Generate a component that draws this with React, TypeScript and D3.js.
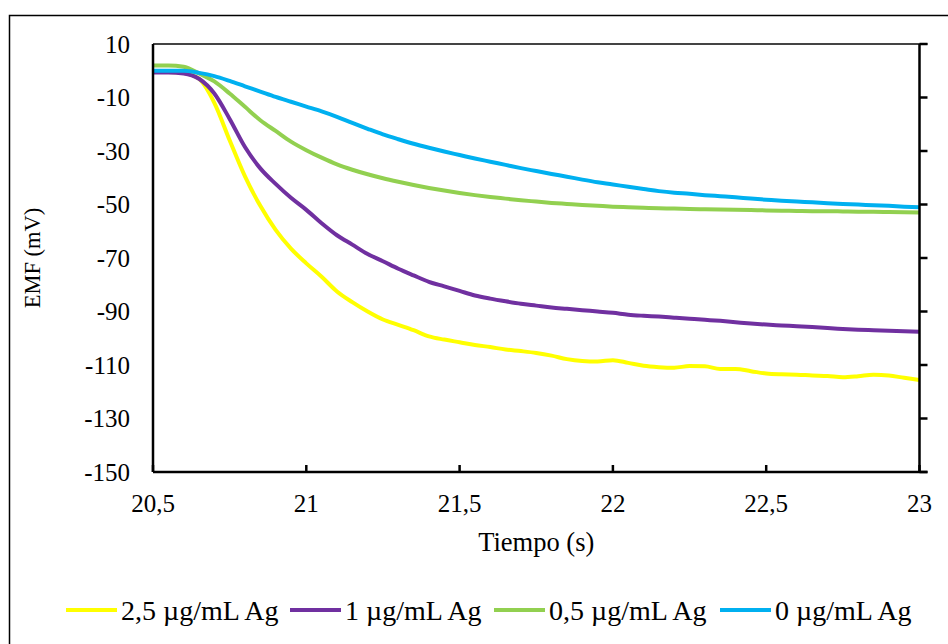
import React from "react";
import * as d3 from "d3";

const times = [
  20.5, 20.55, 20.6, 20.65, 20.7, 20.75, 20.8, 20.85, 20.9, 20.95,
  21.0, 21.05, 21.1, 21.15, 21.2, 21.25, 21.3, 21.35, 21.4, 21.45,
  21.5, 21.55, 21.6, 21.65, 21.7, 21.75, 21.8, 21.85, 21.9, 21.95,
  22.0, 22.05, 22.1, 22.15, 22.2, 22.25, 22.3, 22.35, 22.4, 22.45,
  22.5, 22.55, 22.6, 22.65, 22.7, 22.75, 22.8, 22.85, 22.9, 22.95, 23.0,
];

const ag25 = [
  -0.5, -0.5, -0.8, -3, -12, -26, -39.5, -50.5, -59.5, -66.5,
  -72, -77, -82.5, -86.5, -90, -93, -95, -97, -99.3, -100.5,
  -101.5, -102.5, -103.3, -104.2, -104.8, -105.5, -106.5, -107.8, -108.5, -108.7,
  -108.2, -109.2, -110.3, -110.8, -111, -110.4, -110.5, -111.5, -111.5, -112.3,
  -113.2, -113.5, -113.6, -113.9, -114.1, -114.6, -114.2, -113.6, -113.9, -114.8, -115.6,
];

const ag1 = [
  -0.7, -0.7, -1.0, -3, -8.5, -18, -28.5, -36.5, -42.3, -47.5,
  -52, -57, -61.5, -65, -68.5, -71.2, -74, -76.5, -78.9, -80.6,
  -82.3, -84, -85.2, -86.2, -87.1, -87.8, -88.5, -89, -89.5, -90,
  -90.5, -91.2, -91.6, -91.9, -92.3, -92.7, -93.1, -93.5, -94, -94.5,
  -94.9, -95.2, -95.5, -95.8, -96.2, -96.5, -96.8, -97, -97.2, -97.4, -97.6,
];

const ag05 = [
  2.0, 2.0, 1.5, -1, -4, -8.5, -13.5, -18.5, -22.5, -26.5,
  -29.7, -32.5, -35, -37, -38.7, -40.2, -41.5, -42.7, -43.8, -44.8,
  -45.7, -46.5, -47.2, -47.8, -48.4, -48.9, -49.4, -49.8, -50.2, -50.5,
  -50.8, -51.0, -51.2, -51.4, -51.5, -51.7, -51.8, -51.9, -52.0, -52.1,
  -52.2, -52.3, -52.4, -52.5, -52.5, -52.6, -52.7, -52.7, -52.8, -52.9, -53.0,
];

const ag0 = [
  0, 0, 0, -0.8, -2, -3.8, -5.8, -7.8, -9.8, -11.6,
  -13.4, -15.2, -17.2, -19.5, -21.7, -23.8, -25.6, -27.3, -28.8, -30.2,
  -31.5, -32.8, -34.0, -35.2, -36.4, -37.5, -38.6, -39.6, -40.7, -41.7,
  -42.5, -43.4, -44.2, -45.0, -45.6, -46.0, -46.5, -46.9, -47.3, -47.8,
  -48.2, -48.6, -48.9, -49.2, -49.5, -49.8, -50.0, -50.3, -50.5, -50.8, -51.0,
];

const seriesNames = ["2,5 µg/mL Ag", "1 µg/mL Ag", "0,5 µg/mL Ag", "0 µg/mL Ag"];
const seriesValues = [ag25, ag1, ag05, ag0];
const seriesColors = ["#FFFF00", "#7030A0", "#92D050", "#00B0F0"];

const xTicks = [20.5, 21, 21.5, 22, 22.5, 23];
const yTicks = [10, -10, -30, -50, -70, -90, -110, -130, -150];

const xTitle = "Tiempo (s)";
const yTitle = "EMF (mV)";

const W = 948;
const H = 644;
const plot = { left: 153, right: 919.5, top: 44, bottom: 472 };
const FONT = "'Liberation Serif', 'Times New Roman', serif";
const FS = 25;

const fmt = (v: number) => String(v).replace(".", ",");

export default function App() {
  const x = d3.scaleLinear().domain([20.5, 23]).range([plot.left, plot.right]);
  const y = d3.scaleLinear().domain([-150, 10]).range([plot.bottom, plot.top]);

  const line = d3
    .line<[number, number]>()
    .x((d) => x(d[0]))
    .y((d) => y(d[1]))
    .curve(d3.curveMonotoneX);

  const legendStarts = [66, 290, 494, 720];

  return (
    <svg
      width={W}
      height={H}
      style={{ position: "absolute", left: 0, top: 0, background: "#fff" }}
      fontFamily={FONT}
    >
      <rect x={0} y={0} width={W} height={H} fill="#fff" />
      <rect x={9.5} y={15.5} width={W + 20} height={H + 20} fill="none" stroke="#000" strokeWidth={1.5} />

      {seriesValues.map((vals, i) => (
        <path
          key={i}
          d={line(times.map((t, j) => [t, vals[j]]) as [number, number][]) || ""}
          fill="none"
          stroke={seriesColors[i]}
          strokeWidth={4}
          strokeLinejoin="round"
        />
      ))}

      <line x1={plot.left} x2={plot.right + 8} y1={plot.top} y2={plot.top} stroke="#444" strokeWidth={2} />
      <line x1={plot.left} x2={plot.left} y1={plot.top} y2={plot.bottom} stroke="#000" strokeWidth={2.5} />
      <line x1={plot.right} x2={plot.right} y1={plot.top} y2={plot.bottom} stroke="#000" strokeWidth={2.5} />
      {yTicks.map((v) => (
        <line key={v} x1={plot.right} x2={plot.right + 8} y1={y(v)} y2={y(v)} stroke="#000" strokeWidth={2.5} />
      ))}
      <line x1={plot.left} x2={plot.right + 8} y1={plot.bottom} y2={plot.bottom} stroke="#000" strokeWidth={2.5} />
      {xTicks.map((v) => (
        <line key={v} x1={x(v)} x2={x(v)} y1={plot.bottom} y2={plot.bottom - 7} stroke="#000" strokeWidth={2.5} />
      ))}

      {yTicks.map((v) => (
        <text key={v} x={130} y={y(v)} dy="0.35em" textAnchor="end" fontSize={FS} fill="#000">
          {fmt(v)}
        </text>
      ))}
      {xTicks.map((v) => (
        <text key={v} x={x(v)} y={503} dy="0.35em" textAnchor="middle" fontSize={FS} fill="#000">
          {fmt(v)}
        </text>
      ))}

      <text x={(plot.left + plot.right) / 2} y={542} dy="0.35em" textAnchor="middle" fontSize={26.5} fill="#000">
        {xTitle}
      </text>
      <text
        transform={`translate(32,${(plot.top + plot.bottom) / 2}) rotate(-90)`}
        dy="0.35em"
        textAnchor="middle"
        fontSize={22.5}
        fill="#000"
      >
        {yTitle}
      </text>

      {seriesNames.map((name, i) => (
        <g key={name} transform={`translate(${legendStarts[i]},610)`}>
          <line x1={0} x2={51} y1={0} y2={0} stroke={seriesColors[i]} strokeWidth={4} />
          <text x={55} y={0} dy="0.35em" fontSize={28} fill="#000">
            {name}
          </text>
        </g>
      ))}
    </svg>
  );
}
